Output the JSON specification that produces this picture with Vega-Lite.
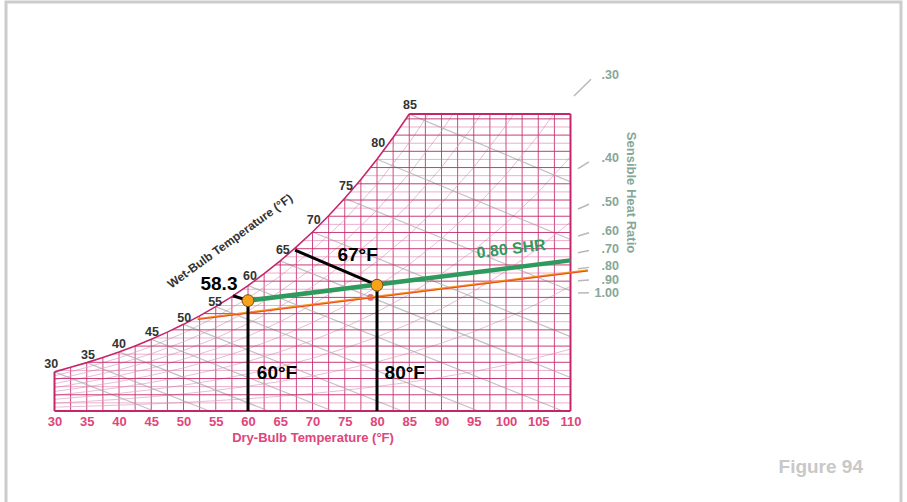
{
"$schema":"https://vega.github.io/schema/vega-lite/v6.json",
"width":516,"height":297,
"autosize":{"type":"none"},
"padding":{"left":54.5,"top":114,"right":336.5,"bottom":91},
"background":"white",
"config":{"view":{"stroke":null},"font":"Liberation Sans",
 "axisX":{"tickCount":17,"labelOverlap":false,"domain":false,"ticks":false,"grid":false,"labelFont":"Liberation Sans","labelFontWeight":"bold","labelFontSize":13,"labelColor":"#e0457b","labelPadding":4,"labelFlush":false,"titleFont":"Liberation Sans","titleFontWeight":"bold","titleFontSize":13,"titleColor":"#e0457b","titlePadding":3}},
"layer":[
{"data":{"values":[
{"t":30,"w0":0,"w":24.1},{"t":32.5,"w0":0,"w":27.0},{"t":35,"w0":0,"w":29.8},{"t":37.5,"w0":0,"w":33.0},{"t":40,"w0":0,"w":36.4},{"t":42.5,"w0":0,"w":40.1},{"t":45,"w0":0,"w":44.2},{"t":47.5,"w0":0,"w":48.6},{"t":50,"w0":0,"w":53.4},{"t":52.5,"w0":0,"w":58.6},{"t":55,"w0":0,"w":64.3},{"t":57.5,"w0":0,"w":70.5},{"t":60,"w0":0,"w":77.3},{"t":62.5,"w0":0,"w":84.6},{"t":65,"w0":0,"w":92.5},{"t":67.5,"w0":0,"w":101.1},{"t":70,"w0":0,"w":110.3},{"t":72.5,"w0":0,"w":120.3},{"t":75,"w0":0,"w":131.1},{"t":77.5,"w0":0,"w":142.7},{"t":80,"w0":0,"w":155.1},{"t":82.5,"w0":0,"w":168.5},{"t":85,"w0":0,"w":183},{"t":87.5,"w0":0,"w":183},{"t":90,"w0":0,"w":183},{"t":92.5,"w0":0,"w":183},{"t":95,"w0":0,"w":183},{"t":97.5,"w0":0,"w":183},{"t":100,"w0":0,"w":183},{"t":102.5,"w0":0,"w":183},{"t":105,"w0":0,"w":183},{"t":107.5,"w0":0,"w":183},{"t":110,"w0":0,"w":183}
]},
 "mark":{"type":"rule","stroke":"#c5266b","strokeWidth":1,"opacity":0.85},
 "encoding":{"x":{"field":"t","type":"quantitative","scale":{"domain":[30,110],"nice":false,"zero":false},
   "axis":{"values":[30,35,40,45,50,55,60,65,70,75,80,85,90,95,100,105,110],"tickCount":17,"title":"Dry-Bulb Temperature (°F)"}},
 "y":{"field":"w0","type":"quantitative","scale":{"domain":[0,183],"nice":false,"zero":false},"axis":null},"y2":{"field":"w"}}},
{"data":{"values":[{}]},
 "mark":{"type":"rect","filled":false,"stroke":"#cccccc","strokeWidth":3},
 "encoding":{"x":{"datum":22.48,"type":"quantitative","scale":{"domain":[30,110],"nice":false,"zero":false}},"x2":{"datum":161.24},
 "y":{"datum":252,"type":"quantitative","scale":{"domain":[0,183],"nice":false,"zero":false},"axis":null},"y2":{"datum":-74}}},
{"data":{"values":[
{"r":10,"t":30,"w":2.39},{"r":10,"t":35,"w":2.96},{"r":10,"t":40,"w":3.61},{"r":10,"t":45,"w":4.37},{"r":10,"t":50,"w":5.28},{"r":10,"t":55,"w":6.35},{"r":10,"t":60,"w":7.61},{"r":10,"t":65,"w":9.07},{"r":10,"t":70,"w":10.79},{"r":10,"t":75,"w":12.78},{"r":10,"t":80,"w":15.09},{"r":10,"t":85,"w":17.75},{"r":10,"t":90,"w":20.81},{"r":10,"t":95,"w":24.3},{"r":10,"t":100,"w":28.35},{"r":10,"t":105,"w":32.91},{"r":10,"t":110,"w":38.13},
{"r":20,"t":30,"w":4.79},{"r":20,"t":35,"w":5.93},{"r":20,"t":40,"w":7.22},{"r":20,"t":45,"w":8.76},{"r":20,"t":50,"w":10.58},{"r":20,"t":55,"w":12.73},{"r":20,"t":60,"w":15.25},{"r":20,"t":65,"w":18.19},{"r":20,"t":70,"w":21.64},{"r":20,"t":75,"w":25.64},{"r":20,"t":80,"w":30.28},{"r":20,"t":85,"w":35.65},{"r":20,"t":90,"w":41.83},{"r":20,"t":95,"w":48.88},{"r":20,"t":100,"w":57.09},{"r":20,"t":105,"w":66.34},{"r":20,"t":110,"w":76.94},
{"r":30,"t":30,"w":7.19},{"r":30,"t":35,"w":8.91},{"r":30,"t":40,"w":10.85},{"r":30,"t":45,"w":13.15},{"r":30,"t":50,"w":15.89},{"r":30,"t":55,"w":19.12},{"r":30,"t":60,"w":22.91},{"r":30,"t":65,"w":27.35},{"r":30,"t":70,"w":32.54},{"r":30,"t":75,"w":38.58},{"r":30,"t":80,"w":45.59},{"r":30,"t":85,"w":53.7},{"r":30,"t":90,"w":63.06},{"r":30,"t":95,"w":73.76},{"r":30,"t":100,"w":86.22},{"r":30,"t":105,"w":100.3},{"r":30,"t":110,"w":116.46},
{"r":40,"t":30,"w":9.6},{"r":40,"t":35,"w":11.89},{"r":40,"t":40,"w":14.48},{"r":40,"t":45,"w":17.56},{"r":40,"t":50,"w":21.22},{"r":40,"t":55,"w":25.53},{"r":40,"t":60,"w":30.6},{"r":40,"t":65,"w":36.54},{"r":40,"t":70,"w":43.5},{"r":40,"t":75,"w":51.6},{"r":40,"t":80,"w":61.01},{"r":40,"t":85,"w":71.91},{"r":40,"t":90,"w":84.5},{"r":40,"t":95,"w":98.92},{"r":40,"t":100,"w":115.74},{"r":40,"t":105,"w":134.78},{"r":40,"t":110,"w":156.68},
{"r":50,"t":30,"w":12.01},{"r":50,"t":35,"w":14.87},{"r":50,"t":40,"w":18.11},{"r":50,"t":45,"w":21.97},{"r":50,"t":50,"w":26.56},{"r":50,"t":55,"w":31.96},{"r":50,"t":60,"w":38.32},{"r":50,"t":65,"w":45.78},{"r":50,"t":70,"w":54.52},{"r":50,"t":75,"w":64.7},{"r":50,"t":80,"w":76.54},{"r":50,"t":85,"w":90.27},{"r":50,"t":90,"w":106.15},{"r":50,"t":95,"w":124.36},{"r":50,"t":100,"w":145.64},{"r":50,"t":105,"w":169.78},{"r":50,"t":110,"w":197.6},
{"r":60,"t":30,"w":14.42},{"r":60,"t":35,"w":17.86},{"r":60,"t":40,"w":21.75},{"r":60,"t":45,"w":26.39},{"r":60,"t":50,"w":31.91},{"r":60,"t":55,"w":38.42},{"r":60,"t":60,"w":46.07},{"r":60,"t":65,"w":55.05},{"r":60,"t":70,"w":65.59},{"r":60,"t":75,"w":77.88},{"r":60,"t":80,"w":92.18},{"r":60,"t":85,"w":108.78},{"r":60,"t":90,"w":128.01},{"r":60,"t":95,"w":150.09},{"r":60,"t":100,"w":175.94},{"r":60,"t":105,"w":205.3},
{"r":70,"t":30,"w":16.83},{"r":70,"t":35,"w":20.85},{"r":70,"t":40,"w":25.4},{"r":70,"t":45,"w":30.82},{"r":70,"t":50,"w":37.27},{"r":70,"t":55,"w":44.89},{"r":70,"t":60,"w":53.85},{"r":70,"t":65,"w":64.37},{"r":70,"t":70,"w":76.72},{"r":70,"t":75,"w":91.13},{"r":70,"t":80,"w":107.93},{"r":70,"t":85,"w":127.45},{"r":70,"t":90,"w":150.09},{"r":70,"t":95,"w":176.1},{"r":70,"t":100,"w":206.6},
{"r":80,"t":30,"w":19.24},{"r":80,"t":35,"w":23.84},{"r":80,"t":40,"w":29.05},{"r":80,"t":45,"w":35.26},{"r":80,"t":50,"w":42.65},{"r":80,"t":55,"w":51.38},{"r":80,"t":60,"w":61.66},{"r":80,"t":65,"w":73.73},{"r":80,"t":70,"w":87.91},{"r":80,"t":75,"w":104.47},{"r":80,"t":80,"w":123.79},{"r":80,"t":85,"w":146.26},{"r":80,"t":90,"w":172.36},{"r":80,"t":95,"w":202.4},
{"r":90,"t":30,"w":21.66},{"r":90,"t":35,"w":26.84},{"r":90,"t":40,"w":32.71},{"r":90,"t":45,"w":39.71},{"r":90,"t":50,"w":48.05},{"r":90,"t":55,"w":57.89},{"r":90,"t":60,"w":69.49},{"r":90,"t":65,"w":83.12},{"r":90,"t":70,"w":99.15},{"r":90,"t":75,"w":117.89},{"r":90,"t":80,"w":139.77},{"r":90,"t":85,"w":165.24},{"r":90,"t":90,"w":194.85}
]},
 "mark":{"type":"line","clip":true,"stroke":"#dba3c2","strokeWidth":1,"opacity":0.7},
 "encoding":{"x":{"field":"t","type":"quantitative","scale":{"domain":[30,110],"nice":false,"zero":false}},
 "y":{"field":"w","type":"quantitative","scale":{"domain":[0,183],"nice":false,"zero":false},"axis":null},
 "detail":{"field":"r","type":"nominal"}}},
{"data":{"values":[
{"t1":30,"w1":24.1,"t2":45.4,"w2":0},{"t1":35,"w1":29.8,"t2":54.0,"w2":0},{"t1":40,"w1":36.4,"t2":63.2,"w2":0},{"t1":45,"w1":44.2,"t2":73.1,"w2":0},{"t1":50,"w1":53.4,"t2":83.9,"w2":0},{"t1":55,"w1":64.3,"t2":95.7,"w2":0},{"t1":60,"w1":77.3,"t2":108.8,"w2":0},{"t1":65,"w1":92.5,"t2":110,"w2":20.6},{"t1":70,"w1":110.3,"t2":110,"w2":45.8},{"t1":75,"w1":131.1,"t2":110,"w2":74.1},{"t1":80,"w1":155.1,"t2":110,"w2":105.7},{"t1":85,"w1":182.9,"t2":110,"w2":141.2}
]},
 "mark":{"type":"rule","stroke":"#a8a8a8","strokeWidth":1.2,"opacity":0.7},
 "encoding":{"x":{"field":"t1","type":"quantitative","scale":{"domain":[30,110],"nice":false,"zero":false}},"x2":{"field":"t2"},
 "y":{"field":"w1","type":"quantitative","scale":{"domain":[0,183],"nice":false,"zero":false},"axis":null},"y2":{"field":"w2"}}},
{"data":{"values":[
{"w":5,"t":30,"te":110},{"w":15,"t":30,"te":110},{"w":25,"t":30.8,"te":110},{"w":35,"t":39.0,"te":110},{"w":45,"t":45.5,"te":110},{"w":55,"t":50.8,"te":110},{"w":65,"t":55.3,"te":110},{"w":75,"t":59.2,"te":110},{"w":85,"t":62.6,"te":110},{"w":95,"t":65.7,"te":110},{"w":105,"t":68.6,"te":110},{"w":115,"t":71.2,"te":110},{"w":125,"t":73.6,"te":110},{"w":135,"t":75.8,"te":110},{"w":145,"t":78.0,"te":110},{"w":155,"t":80.0,"te":110},{"w":165,"t":81.8,"te":110},{"w":175,"t":83.6,"te":110}
]},
 "mark":{"type":"rule","stroke":"#d9609a","strokeWidth":1,"opacity":0.5},
 "encoding":{"x":{"field":"t","type":"quantitative","scale":{"domain":[30,110],"nice":false,"zero":false}},"x2":{"field":"te"},
 "y":{"field":"w","type":"quantitative","scale":{"domain":[0,183],"nice":false,"zero":false},"axis":null}}},
{"data":{"values":[
{"w":10,"t":30,"te":110},{"w":20,"t":30,"te":110},{"w":30,"t":35.2,"te":110},{"w":40,"t":42.4,"te":110},{"w":50,"t":48.2,"te":110},{"w":60,"t":53.1,"te":110},{"w":70,"t":57.3,"te":110},{"w":80,"t":60.9,"te":110},{"w":90,"t":64.2,"te":110},{"w":100,"t":67.2,"te":110},{"w":110,"t":69.9,"te":110},{"w":120,"t":72.4,"te":110},{"w":130,"t":74.7,"te":110},{"w":140,"t":76.9,"te":110},{"w":150,"t":79.0,"te":110},{"w":160,"t":80.9,"te":110},{"w":170,"t":82.8,"te":110},{"w":180,"t":84.5,"te":110}
]},
 "mark":{"type":"rule","stroke":"#c5266b","strokeWidth":1,"opacity":0.9},
 "encoding":{"x":{"field":"t","type":"quantitative","scale":{"domain":[30,110],"nice":false,"zero":false}},"x2":{"field":"te"},
 "y":{"field":"w","type":"quantitative","scale":{"domain":[0,183],"nice":false,"zero":false},"axis":null}}},
{"data":{"values":[
{"t":30,"w":24.1},{"t":32.5,"w":27.0},{"t":35,"w":29.8},{"t":37.5,"w":33.0},{"t":40,"w":36.4},{"t":42.5,"w":40.1},{"t":45,"w":44.2},{"t":47.5,"w":48.6},{"t":50,"w":53.4},{"t":52.5,"w":58.6},{"t":55,"w":64.3},{"t":57.5,"w":70.5},{"t":60,"w":77.3},{"t":62.5,"w":84.6},{"t":65,"w":92.5},{"t":67.5,"w":101.1},{"t":70,"w":110.3},{"t":72.5,"w":120.3},{"t":75,"w":131.1},{"t":77.5,"w":142.7},{"t":80,"w":155.1},{"t":82.5,"w":168.5},{"t":85,"w":183}
]},
 "mark":{"type":"line","stroke":"#c5266b","strokeWidth":1.6},
 "encoding":{"x":{"field":"t","type":"quantitative","scale":{"domain":[30,110],"nice":false,"zero":false}},
 "y":{"field":"w","type":"quantitative","scale":{"domain":[0,183],"nice":false,"zero":false},"axis":null}}},
{"data":{"values":[
{"t1":30,"w1":0,"t2":110,"w2":0},{"t1":110,"w1":0,"t2":110,"w2":183},{"t1":85,"w1":183,"t2":110,"w2":183},{"t1":30,"w1":0,"t2":30,"w2":24.1}
]},
 "mark":{"type":"rule","stroke":"#c5266b","strokeWidth":2},
 "encoding":{"x":{"field":"t1","type":"quantitative","scale":{"domain":[30,110],"nice":false,"zero":false}},"x2":{"field":"t2"},
 "y":{"field":"w1","type":"quantitative","scale":{"domain":[0,183],"nice":false,"zero":false},"axis":null},"y2":{"field":"w2"}}},
{"data":{"values":[{"t":79,"w":70}]},
 "mark":{"type":"circle","size":45,"color":"#c8407a","opacity":0.75},
 "encoding":{"x":{"field":"t","type":"quantitative","scale":{"domain":[30,110],"nice":false,"zero":false}},
 "y":{"field":"w","type":"quantitative","scale":{"domain":[0,183],"nice":false,"zero":false},"axis":null}}},
{"data":{"values":[{"t1":52.2,"w1":56.7,"t2":112.7,"w2":86.6}]},
 "mark":{"type":"rule","stroke":"#f7941d","strokeWidth":2.2},
 "encoding":{"x":{"field":"t1","type":"quantitative","scale":{"domain":[30,110],"nice":false,"zero":false}},"x2":{"field":"t2"},
 "y":{"field":"w1","type":"quantitative","scale":{"domain":[0,183],"nice":false,"zero":false},"axis":null},"y2":{"field":"w2"}}},
{"data":{"values":[{"t1":52.2,"w1":56.4,"t2":112.7,"w2":86.3}]},
 "mark":{"type":"rule","stroke":"#e3262c","strokeWidth":0.7},
 "encoding":{"x":{"field":"t1","type":"quantitative","scale":{"domain":[30,110],"nice":false,"zero":false}},"x2":{"field":"t2"},
 "y":{"field":"w1","type":"quantitative","scale":{"domain":[0,183],"nice":false,"zero":false},"axis":null},"y2":{"field":"w2"}}},
{"data":{"values":[{"t1":57.7,"w1":71,"t2":60,"w2":68},{"t1":67.3,"w1":99.1,"t2":80,"w2":77.5},{"t1":60,"w1":0,"t2":60,"w2":68},{"t1":80,"w1":0,"t2":80,"w2":77.5}]},
 "mark":{"type":"rule","stroke":"#000000","strokeWidth":3},
 "encoding":{"x":{"field":"t1","type":"quantitative","scale":{"domain":[30,110],"nice":false,"zero":false}},"x2":{"field":"t2"},
 "y":{"field":"w1","type":"quantitative","scale":{"domain":[0,183],"nice":false,"zero":false},"axis":null},"y2":{"field":"w2"}}},
{"data":{"values":[{"t1":60,"w1":68,"t2":110,"w2":92.8}]},
 "mark":{"type":"rule","stroke":"#2f9a5e","strokeWidth":4.5},
 "encoding":{"x":{"field":"t1","type":"quantitative","scale":{"domain":[30,110],"nice":false,"zero":false}},"x2":{"field":"t2"},
 "y":{"field":"w1","type":"quantitative","scale":{"domain":[0,183],"nice":false,"zero":false},"axis":null},"y2":{"field":"w2"}}},
{"data":{"values":[{"t":60,"w":68},{"t":80,"w":77.5}]},
 "mark":{"type":"circle","size":140,"fill":"#f8a21b","stroke":"#7a4e10","strokeWidth":1,"opacity":1},
 "encoding":{"x":{"field":"t","type":"quantitative","scale":{"domain":[30,110],"nice":false,"zero":false}},
 "y":{"field":"w","type":"quantitative","scale":{"domain":[0,183],"nice":false,"zero":false},"axis":null}}},
{"data":{"values":[{"t":29.5,"w":28.7,"s":"30"},{"t":35.2,"w":34.3,"s":"35"},{"t":40.0,"w":41.1,"s":"40"},{"t":45.1,"w":48.6,"s":"45"},{"t":50.1,"w":57.3,"s":"50"},{"t":54.9,"w":67.3,"s":"55"},{"t":60.3,"w":82.9,"s":"60"},{"t":65.4,"w":99.1,"s":"65"},{"t":70.2,"w":117.8,"s":"70"},{"t":75.2,"w":138.9,"s":"75"},{"t":80.2,"w":165.1,"s":"80"},{"t":85.1,"w":188.8,"s":"85"}]},
 "mark":{"type":"text","font":"Liberation Sans","fontWeight":"bold","fontSize":12.5,"color":"#333333","align":"center","baseline":"middle"},
 "encoding":{"x":{"field":"t","type":"quantitative","scale":{"domain":[30,110],"nice":false,"zero":false}},
 "y":{"field":"w","type":"quantitative","scale":{"domain":[0,183],"nice":false,"zero":false},"axis":null},"text":{"field":"s","type":"nominal"}}},
{"data":{"values":[{"t":57.2,"w":104.7,"s":"Wet-Bulb Temperature (°F)"}]},
 "mark":{"type":"text","font":"Liberation Sans","fontWeight":"bold","fontSize":12,"color":"#333333","align":"center","baseline":"middle","angle":324},
 "encoding":{"x":{"field":"t","type":"quantitative","scale":{"domain":[30,110],"nice":false,"zero":false}},
 "y":{"field":"w","type":"quantitative","scale":{"domain":[0,183],"nice":false,"zero":false},"axis":null},"text":{"field":"s","type":"nominal"}}},
{"data":{"values":[{"t":55.5,"w":78.5,"s":"58.3"},{"t":77.0,"w":96.0,"s":"67°F"},{"t":64.5,"w":23.7,"s":"60°F"},{"t":84.3,"w":23.7,"s":"80°F"}]},
 "mark":{"type":"text","font":"Liberation Sans","fontWeight":"bold","fontSize":19,"color":"#000000","align":"center","baseline":"middle"},
 "encoding":{"x":{"field":"t","type":"quantitative","scale":{"domain":[30,110],"nice":false,"zero":false}},
 "y":{"field":"w","type":"quantitative","scale":{"domain":[0,183],"nice":false,"zero":false},"axis":null},"text":{"field":"s","type":"nominal"}}},
{"data":{"values":[{"t":100.8,"w":99.8,"s":"0.80 SHR"}]},
 "mark":{"type":"text","font":"Liberation Sans","fontWeight":"bold","fontSize":16,"color":"#2f9a5e","align":"center","baseline":"middle","angle":353},
 "encoding":{"x":{"field":"t","type":"quantitative","scale":{"domain":[30,110],"nice":false,"zero":false}},
 "y":{"field":"w","type":"quantitative","scale":{"domain":[0,183],"nice":false,"zero":false},"axis":null},"text":{"field":"s","type":"nominal"}}},
{"data":{"values":[{"t1":110.54,"w1":194.1,"t2":113.18,"w2":204.4},{"t1":111.16,"w1":149.3,"t2":112.87,"w2":153.5},{"t1":111.16,"w1":124.5,"t2":112.87,"w2":127.4},{"t1":111.16,"w1":107.8,"t2":112.87,"w2":109.8},{"t1":111.16,"w1":97.5,"t2":112.87,"w2":98.9},{"t1":111.16,"w1":87.6,"t2":112.87,"w2":88.5},{"t1":111.16,"w1":80.2,"t2":112.87,"w2":80.7},{"t1":111.16,"w1":72.7,"t2":112.87,"w2":72.8}]},
 "mark":{"type":"rule","stroke":"#b8b8b8","strokeWidth":1.5},
 "encoding":{"x":{"field":"t1","type":"quantitative","scale":{"domain":[30,110],"nice":false,"zero":false}},"x2":{"field":"t2"},
 "y":{"field":"w1","type":"quantitative","scale":{"domain":[0,183],"nice":false,"zero":false},"axis":null},"y2":{"field":"w2"}}},
{"data":{"values":[{"t":117.5,"w":206.9,"s":".30"},{"t":117.5,"w":155.8,"s":".40"},{"t":117.5,"w":129.0,"s":".50"},{"t":117.5,"w":110.9,"s":".60"},{"t":117.5,"w":99.7,"s":".70"},{"t":117.5,"w":89.1,"s":".80"},{"t":117.5,"w":81.0,"s":".90"},{"t":117.5,"w":72.9,"s":"1.00"}]},
 "mark":{"type":"text","font":"Liberation Sans","fontWeight":"bold","fontSize":12.5,"color":"#86a796","align":"right","baseline":"middle"},
 "encoding":{"x":{"field":"t","type":"quantitative","scale":{"domain":[30,110],"nice":false,"zero":false}},
 "y":{"field":"w","type":"quantitative","scale":{"domain":[0,183],"nice":false,"zero":false},"axis":null},"text":{"field":"s","type":"nominal"}}},
{"data":{"values":[{"t":119.4,"w":134.6,"s":"Sensible Heat Ratio"}]},
 "mark":{"type":"text","font":"Liberation Sans","fontWeight":"bold","fontSize":13,"color":"#86a796","align":"center","baseline":"middle","angle":90},
 "encoding":{"x":{"field":"t","type":"quantitative","scale":{"domain":[30,110],"nice":false,"zero":false}},
 "y":{"field":"w","type":"quantitative","scale":{"domain":[0,183],"nice":false,"zero":false},"axis":null},"text":{"field":"s","type":"nominal"}}},
{"data":{"values":[{"t":148.8,"w":-34.3,"s":"Figure 94"}]},
 "mark":{"type":"text","font":"Liberation Sans","fontWeight":"bold","fontSize":19,"color":"#c8c8c8","align":"center","baseline":"middle"},
 "encoding":{"x":{"field":"t","type":"quantitative","scale":{"domain":[30,110],"nice":false,"zero":false}},
 "y":{"field":"w","type":"quantitative","scale":{"domain":[0,183],"nice":false,"zero":false},"axis":null},"text":{"field":"s","type":"nominal"}}}
]
}
